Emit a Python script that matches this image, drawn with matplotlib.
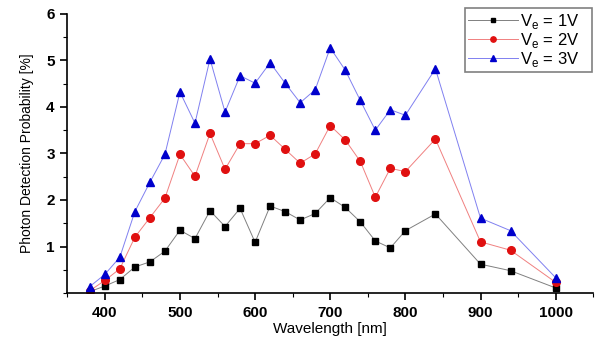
import numpy as np
import matplotlib
matplotlib.use('Agg')
import matplotlib.pyplot as plt
from matplotlib.ticker import MultipleLocator, FixedLocator

plt.rcParams['font.family'] = ['Liberation Sans', 'DejaVu Sans']

wavelength = [380, 400, 420, 440, 460, 480, 500, 520, 540, 560, 580, 600, 620,
              640, 660, 680, 700, 720, 740, 760, 780, 800, 840, 900, 940, 1000]

pdp_1v = [0.03, 0.15, 0.29, 0.56, 0.67, 0.90, 1.35, 1.17, 1.77, 1.43, 1.82, 1.09, 1.87,
          1.75, 1.57, 1.71, 2.05, 1.84, 1.53, 1.12, 0.97, 1.34, 1.70, 0.62, 0.48, 0.11]
pdp_2v = [0.05, 0.27, 0.52, 1.20, 1.62, 2.04, 2.98, 2.51, 3.43, 2.66, 3.21, 3.21, 3.39,
          3.09, 2.79, 2.99, 3.60, 3.29, 2.83, 2.06, 2.68, 2.61, 3.31, 1.10, 0.92, 0.23]
pdp_3v = [0.14, 0.40, 0.77, 1.75, 2.38, 2.98, 4.32, 3.65, 5.03, 3.89, 4.67, 4.51, 4.95,
          4.51, 4.09, 4.37, 5.27, 4.79, 4.14, 3.50, 3.94, 3.82, 4.82, 1.61, 1.34, 0.33]

labels = ['V$_\\mathregular{e}$ = 1V   ', 'V$_\\mathregular{e}$ = 2V   ', 'V$_\\mathregular{e}$ = 3V   ']

fig = plt.figure(figsize=(5.95, 3.38), dpi=100)
ax = fig.add_axes([0.113, 0.133, 0.884, 0.826])

ax.plot(wavelength, pdp_1v, '-s', color='#808080', lw=0.7, ms=5,
        mfc='black', mec='black', label=labels[0])
ax.plot(wavelength, pdp_2v, '-o', color='#f08080', lw=0.7, ms=5.5,
        mfc='#e01010', mec='#e01010', label=labels[1])
ax.plot(wavelength, pdp_3v, '-^', color='#8080f0', lw=0.7, ms=6,
        mfc='#0000cc', mec='#0000cc', label=labels[2])

ax.set_xlim(350, 1050)
ax.set_ylim(0, 6)
ax.xaxis.set_major_locator(MultipleLocator(100))
ax.xaxis.set_minor_locator(MultipleLocator(50))
ax.yaxis.set_major_locator(FixedLocator([1, 2, 3, 4, 5, 6]))
ax.yaxis.set_minor_locator(MultipleLocator(0.5))

for sp in ['top', 'right']:
    ax.spines[sp].set_visible(False)
ax.spines['left'].set_linewidth(1.2)
ax.spines['bottom'].set_linewidth(1.2)
ax.tick_params(which='major', direction='out', length=5, width=1.2,
               labelsize=11, pad=4)
ax.tick_params(which='minor', direction='out', length=3, width=0.8)
for t in ax.get_xticklabels() + ax.get_yticklabels():
    t.set_fontweight('bold')

ax.set_xlabel('Wavelength [nm]', fontsize=11, labelpad=2)
ax.set_ylabel('Photon Detection Probability [%]', fontsize=10, labelpad=9,
              family=['Liberation Sans Narrow', 'Liberation Sans', 'DejaVu Sans'])

leg = ax.legend(loc='upper right', bbox_to_anchor=(0.998, 1.02), fontsize=12,
                frameon=True, fancybox=False, handlelength=3.0, markerscale=0.7,
                borderpad=0.2, labelspacing=0.0, handletextpad=0.1,
                borderaxespad=0)
leg.get_frame().set_edgecolor('#606060')
leg.get_frame().set_linewidth(1.2)

fig.savefig('out.png', dpi=100)
